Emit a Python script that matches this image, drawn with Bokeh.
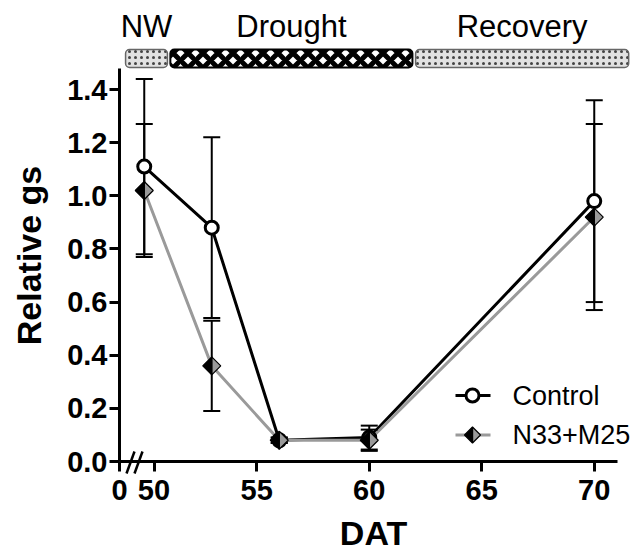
import numpy as np
from bokeh.plotting import figure
from bokeh.models import Range1d, FixedTicker
from bokeh.core.properties import value
from bokeh.embed import file_html
from bokeh.resources import INLINE

# ---------------- data ----------------
dat = [50, 53, 56, 60, 70]
control = [1.11, 0.88, 0.08, 0.09, 0.98]
control_sd = [0.33, 0.34, 0.01, 0.045, 0.38]
n33 = [1.02, 0.36, 0.08, 0.08, 0.92]
n33_sd = [0.25, 0.17, 0.01, 0.04, 0.35]
series_names = ["Control", "N33+M25"]

phase_names = ["NW", "Drought", "Recovery"]
phase_start = [49.17, 51.16, 62.06]
phase_end = [51.03, 61.92, 71.53]

y_ticks = [0.0, 0.2, 0.4, 0.6, 0.8, 1.0, 1.2, 1.4]
y_tick_labels = ["0.0", "0.2", "0.4", "0.6", "0.8", "1.0", "1.2", "1.4"]
x_ticks = [50, 55, 60, 65, 70]
x_tick_labels = ["50", "55", "60", "65", "70"]
x_break_label = "0"
x_title = "DAT"
y_title = "Relative gs"

# ---------------- geometry (page pixels -> data) ----------------
W, H = 634, 552
AX_X, AX_Y = 119, 461        # pixel position of the axes
PX_X, PX_Y = 22.5, 265.7     # pixels per unit
X0 = 48.9                    # x value at the y-axis


def X(px):
    return X0 + (px - AX_X) / PX_X


def Y(py):
    return (AX_Y - py) / PX_Y


FONT = "Liberation Sans"
GRAY = "#9a9a9a"

p = figure(width=W, height=H, output_backend="svg", toolbar_location=None,
           x_range=Range1d(X(0), X(W)), y_range=Range1d(Y(H), Y(0)),
           min_border_left=0, min_border_right=0, min_border_top=0,
           min_border_bottom=0)
p.outline_line_color = None
p.xgrid.visible = False
p.ygrid.visible = False
p.background_fill_color = "white"
p.border_fill_color = "white"

for ax in (p.xaxis[0], p.yaxis[0]):
    ax.axis_line_width = 3
    ax.major_tick_line_width = 3
    ax.major_tick_out = 10
    ax.major_tick_in = 0
    ax.minor_tick_line_color = None
    ax.major_label_text_font = FONT
    ax.major_label_text_font_style = "bold"
    ax.major_label_text_font_size = "29px"
    ax.major_label_text_color = "black"
    ax.axis_line_color = "black"
    ax.major_tick_line_color = "black"

p.yaxis.fixed_location = X0
p.yaxis.ticker = FixedTicker(ticks=y_ticks)
p.yaxis.major_label_overrides = {t: l for t, l in zip(y_ticks, y_tick_labels)}
p.yaxis.bounds = (0, 1.48)
p.yaxis.major_label_standoff = 2

# the reference draws the "50" tick slightly right of x=50 (axis break)
x_tick_pos = [X(153.5)] + x_ticks[1:]
p.xaxis.fixed_location = 0
p.xaxis.ticker = FixedTicker(ticks=[X0] + x_tick_pos)
ov = {X0: x_break_label}
ov.update({t: l for t, l in zip(x_tick_pos, x_tick_labels)})
p.xaxis.major_label_overrides = ov
p.xaxis.bounds = (X0, X(617))
p.xaxis.major_label_standoff = 8

# axis titles
p.text(x=[X(373)], y=[Y(532)], text=[x_title], text_font=value(FONT),
       text_font_style="bold", text_font_size="34px", text_align="center",
       text_baseline="middle", text_color="black")
p.text(x=[X(28)], y=[Y(255)], text=[y_title], text_font=value(FONT),
       text_font_style="bold", text_font_size="34px", angle=np.pi / 2,
       text_align="center", text_baseline="middle", text_color="black")

# axis break mark
p.segment(x0=[X(126), X(134)], y0=[Y(473), Y(473)],
          x1=[X(134), X(142)], y1=[Y(451), Y(451)],
          line_color="black", line_width=2.5)

# ---------------- phase bars ----------------
bar_bottom, bar_top = Y(67), Y(49)
light = [0, 2]
p.quad(left=[phase_start[i] for i in light], right=[phase_end[i] for i in light],
       bottom=bar_bottom, top=bar_top, fill_color="#e2e2e2",
       hatch_pattern="dot", hatch_color="#444444", hatch_scale=6, hatch_weight=1.6,
       line_color="#666666", line_width=1.5, border_radius=4)
p.quad(left=[phase_start[1]], right=[phase_end[1]], bottom=bar_bottom, top=bar_top,
       fill_color="white", hatch_pattern="diagonal_cross", hatch_color="black",
       hatch_scale=15, hatch_weight=5, line_color="black", line_width=2,
       border_radius=4)
p.text(x=[(a + b) / 2 for a, b in zip(phase_start, phase_end)], y=[Y(26)] * 3,
       text=phase_names, text_font=value(FONT), text_font_size="31px",
       text_align="center", text_baseline="middle", text_color="black")

# ---------------- series ----------------
p.line(dat, control, line_color="black", line_width=3)
p.line(dat, n33, line_color=GRAY, line_width=3)


def errbars(x, y, e):
    lo = [a - b for a, b in zip(y, e)]
    hi = [a + b for a, b in zip(y, e)]
    p.segment(x0=x, y0=lo, x1=x, y1=hi, line_color="black", line_width=2)
    p.scatter(x=x + x, y=lo + hi, marker="dash", size=17, line_color="black",
              line_width=2)


errbars(dat, control, control_sd)
errbars(dat, n33, n33_sd)

p.scatter(dat, control, marker="circle", size=13, fill_color="white",
          line_color="black", line_width=3)


def half_diamonds(xs, ys, hw, hh):
    dx, dy = hw / PX_X, hh / PX_Y
    lx, ly, rx, ry = [], [], [], []
    for x, y in zip(xs, ys):
        lx.append([x - dx, x, x])
        ly.append([y, y + dy, y - dy])
        rx.append([x + dx, x, x])
        ry.append([y, y + dy, y - dy])
    p.patches(rx, ry, fill_color=GRAY, line_color="black", line_width=1.2)
    p.patches(lx, ly, fill_color="black", line_color="black", line_width=1.2)


half_diamonds(dat, n33, 9, 9)

# ---------------- legend (drawn) ----------------
leg_y = [Y(395), Y(434.5)]
p.segment(x0=[X(455)], y0=[leg_y[0]], x1=[X(490)], y1=[leg_y[0]],
          line_color="black", line_width=3)
p.segment(x0=[X(455)], y0=[leg_y[1]], x1=[X(490)], y1=[leg_y[1]],
          line_color=GRAY, line_width=3)
p.scatter([X(472)], [leg_y[0]], marker="circle", size=13, fill_color="white",
          line_color="black", line_width=3)
half_diamonds([X(472)], [leg_y[1]], 8, 8)
p.text(x=[X(512)] * 2, y=leg_y, text=series_names, text_font=value(FONT),
       text_font_size="27px", text_align="left", text_baseline="middle",
       text_color="black")

open("out.html", "w").write(file_html(p, INLINE))
